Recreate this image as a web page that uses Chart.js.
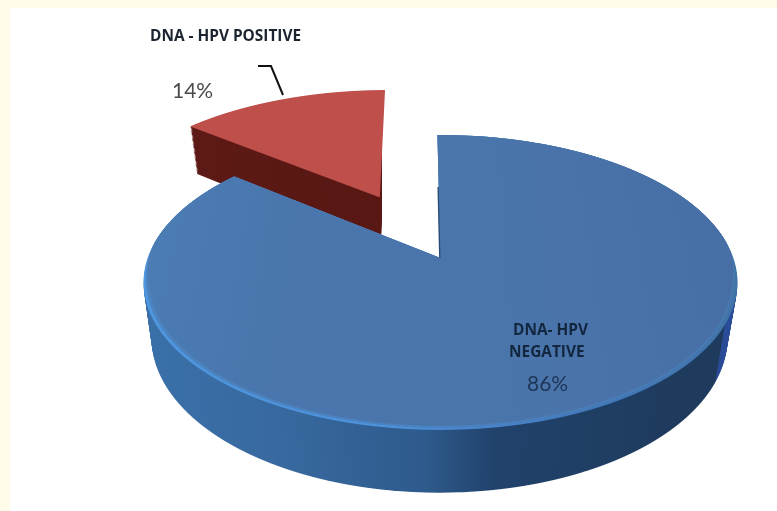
<!DOCTYPE html>
<html><head><meta charset="utf-8">
<script src="https://cdn.jsdelivr.net/npm/chart.js@4"></script>
<style>
html,body{margin:0;padding:0;background:#FFFBE9;}
#wrap{position:absolute;left:0;top:0;width:777px;height:511px;}
canvas{display:block;}
</style></head><body>
<div id="wrap"><canvas id="c" width="777" height="511"></canvas></div>
<script>
const categories = ['DNA- HPV NEGATIVE', 'DNA - HPV POSITIVE'];
const percentValues = [86, 14];
const sliceColors = ['#4A75AB', '#BE4F4B'];

// 3-D view constants: the pie plane is projected with a perspective map.
const RADIUS = 297, PERSP = 0.166, EXPLODE = 150;
const TOP = {x0: 440.5, y0: 258, B: 143.4, k: 0.986};
const BASE = {x0: 439.5, y0: 312, B: 150.7, k: 0.956};
const LAYERS = 40;

function lerpView(t){
  return {x0: TOP.x0+(BASE.x0-TOP.x0)*t, y0: TOP.y0+(BASE.y0-TOP.y0)*t,
          B: TOP.B+(BASE.B-TOP.B)*t, k: TOP.k+(BASE.k-TOP.k)*t};
}
function widen(v, f){ return Object.assign({}, v, {k: v.k*f}); }
function smooth(a,b,x){ const t=Math.min(1,Math.max(0,(x-a)/(b-a))); return t*t*(3-2*t); }
function paint(ctx, arc, v, sx, sy, scaleAt, fill, Ymin, Ymax, xr){
  const view = Object.create(arc);
  view.options = Object.assign({}, arc.options, {backgroundColor: fill, borderWidth: 0, offset: 0});
  const toScreen = Y => { const e = Y/RADIUS; return v.y0 + v.B*e/(1-PERSP*e); };
  const r0 = Math.floor(toScreen(Ymin)), r1 = Math.ceil(toScreen(Ymax));
  const xa = xr ? xr[0] : 0, xb = xr ? xr[1] : 777;
  for (let row = r0; row <= r1; row++){
    const yc = row + 0.5, D = yc - v.y0;
    const e = D/(v.B + PERSP*D), w = 1/(1-PERSP*e), Yrow = e*RADIUS;
    const gy = v.B*w*w/RADIUS, gx = v.k*w;
    const s = scaleAt(e);
    ctx.save();
    ctx.beginPath(); ctx.rect(xa,row,xb-xa,1); ctx.clip();
    ctx.setTransform(gx*s, 0, 0, gy*s,
      v.x0 + gx*(sx - s*arc.x),
      yc + gy*(sy - s*arc.y - Yrow));
    view.draw(ctx);
    ctx.restore();
  }
}
function hGrad(ctx, arc, stops){
  const g = ctx.createLinearGradient(arc.x-RADIUS,0,arc.x+RADIUS,0);
  stops.forEach(([p,c])=>g.addColorStop(p,c));
  return g;
}
const one = () => 1;
const pie3d = {
  id:'pie3d',
  beforeDraw(chart){
    const c = chart.ctx;
    c.save(); c.fillStyle='#FFFFFF'; c.fillRect(10,8,767,503); c.restore();
  },
  beforeDatasetsDraw(chart){
    const ctx = chart.ctx, arcs = chart.getDatasetMeta(0).data;
    const blue = arcs[0], red = arcs[1];
    const mid = (red.startAngle+red.endAngle)/2;
    const ex = Math.cos(mid)*EXPLODE, ey = Math.sin(mid)*EXPLODE;
    // red slice
    const redWall = hGrad(ctx, red, [[0,'#5E1A16'],[0.6,'#571712'],[1,'#4E1410']]);
    for (let i=LAYERS;i>0;i--)
      paint(ctx, red, widen(lerpView(i/LAYERS),1.01), ex, ey, one, redWall, ey-RADIUS, ey+6, [0,381.5]);
    paint(ctx, red, widen(TOP,1.01), ex, ey, one, sliceColors[1], ey-RADIUS, ey+6);
    // blue slice
    const blueWall = hGrad(ctx, blue, [[0,'#3A70A8'],[0.25,'#386AA1'],[0.48,'#2E5A8C'],[0.58,'#21426B'],[0.9,'#1E3A5C'],[0.95,'#1E3A5C'],[0.952,'#2A4B97'],[1,'#2A4B97']]);
    for (let i=LAYERS;i>0;i--)
      paint(ctx, blue, lerpView(i/LAYERS), 0, 0, one, blueWall, -40, RADIUS);
    const rim = hGrad(ctx, blue, [[0,'#4E96DE'],[0.4,'#4D93DC'],[0.7,'#4279BC'],[1,'#3F72A5']]);
    const rimSoft = hGrad(ctx, blue, [[0,'#4C84C2'],[0.5,'#4B82C0'],[1,'#4677AD']]);
    const face = hGrad(ctx, blue, [[0,'#4C7CB4'],[0.2,'#4976AD'],[0.6,'#4A75AB'],[1,'#476FA6']]);
    const inset = d => e => 1 - d*smooth(-0.15,0.3,e);
    paint(ctx, blue, TOP, 0, 0, one, rim, -RADIUS, RADIUS);
    paint(ctx, blue, TOP, 0, 0, inset(0.01), rimSoft, -RADIUS, RADIUS);
    paint(ctx, blue, TOP, -1.4, 0, one, '#274A75', -160, 0, [428,446]);
    paint(ctx, blue, TOP, 0, 0, inset(0.02), face, -RADIUS, RADIUS);
    return false;
  },
  afterDraw(chart){
    const c = chart.ctx;
    c.save();
    c.textBaseline='alphabetic'; c.textAlign='left';
    // leader line
    c.strokeStyle='#111'; c.lineWidth=2; c.lineJoin='miter';
    c.beginPath(); c.moveTo(258,66); c.lineTo(271,66); c.lineTo(283,95); c.stroke();
    const [neg,pos] = categories;
    c.font='bold 15.4px "Open Sans"';
    c.fillStyle='#1B2430';
    c.fillText(pos,150,41);
    c.fillStyle='#12263F';
    const words = neg.split(' ');
    c.fillText(words.slice(0,2).join(' '),513,335);
    c.fillText(words[2],509,357);
    c.font='21px Lato';
    c.fillStyle='#4A4A4A';
    c.fillText(percentValues[1]+'%',172,98);
    c.fillStyle='#1E3557';
    c.fillText(percentValues[0]+'%',527,391);
    c.restore();
  }
};
new Chart(document.getElementById('c'),{
  type:'pie',
  data:{labels:categories,datasets:[{data:percentValues,backgroundColor:sliceColors,borderWidth:0}]},
  options:{responsive:false,animation:false,radius:RADIUS,rotation:-0.7,
    layout:{padding:0},
    plugins:{legend:{display:false},tooltip:{enabled:false},title:{display:false}}},
  plugins:[pie3d]
});
</script></body></html>
